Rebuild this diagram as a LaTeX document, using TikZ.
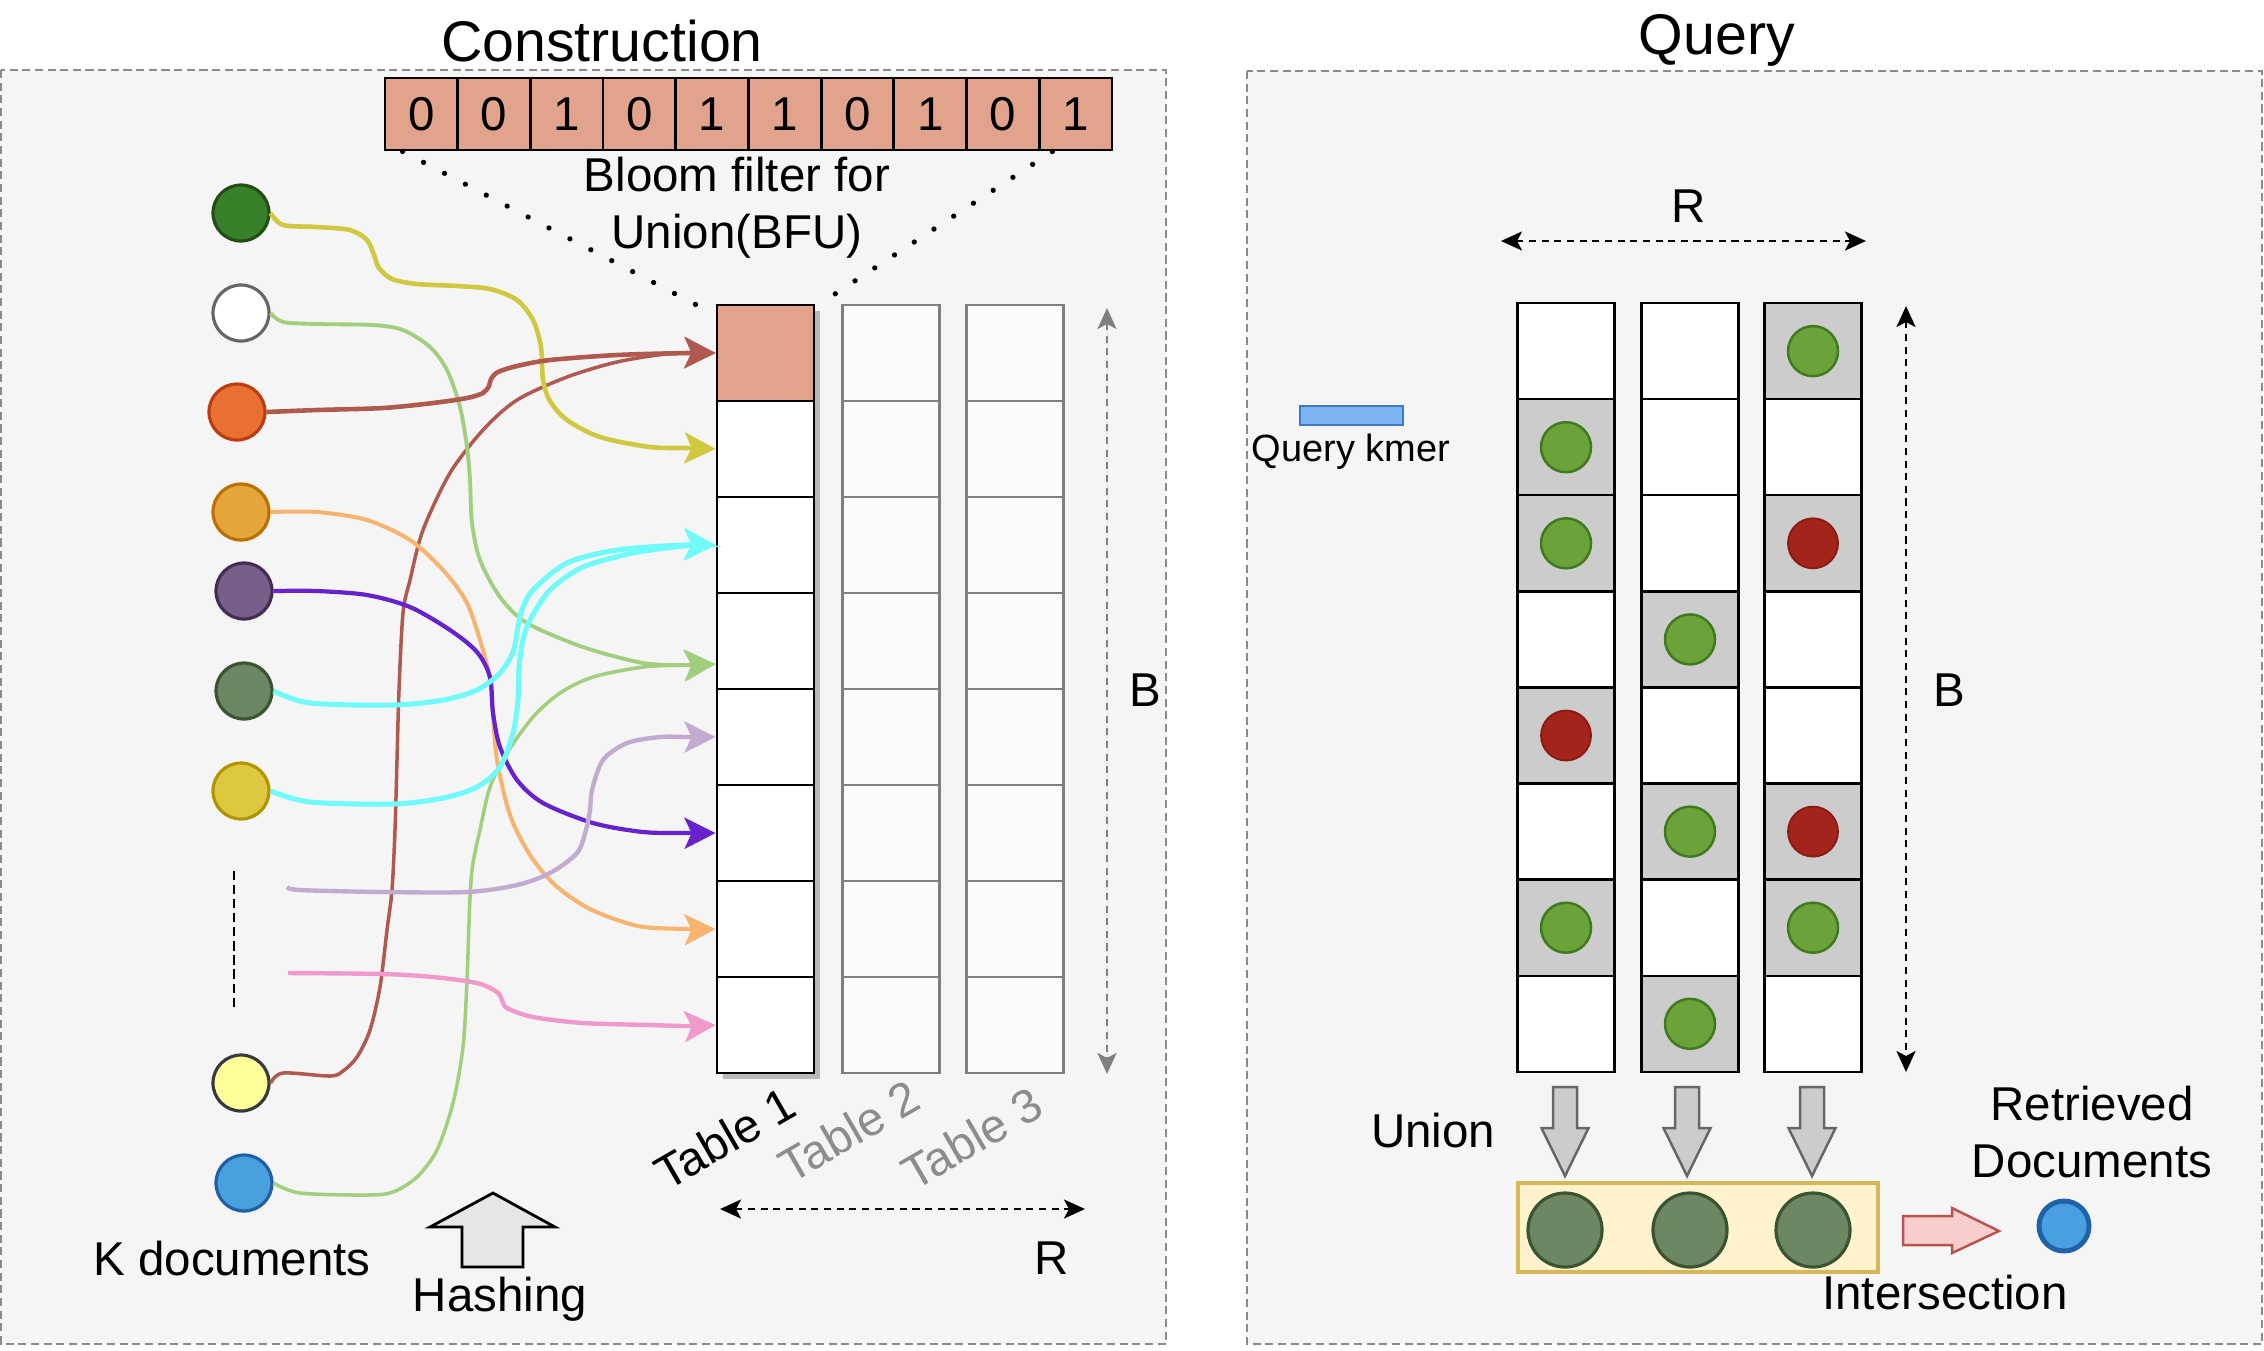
\documentclass[tikz,border=0pt]{standalone}
\usepackage{fontspec}
\setmainfont{Liberation Sans}
\usetikzlibrary{arrows.meta,calc}
\definecolor{panelbg}{HTML}{F5F5F5}
\definecolor{panelline}{HTML}{8A8A8A}
\definecolor{salmon}{HTML}{E1A38C}
\definecolor{tabfill}{HTML}{FAFAFA}
\definecolor{tabline}{HTML}{7F7F7F}
\definecolor{tshadow}{HTML}{B8B8B8}
\definecolor{cyellow}{HTML}{D0C83E}
\definecolor{cgreen}{HTML}{A2CF7E}
\definecolor{cbrown}{HTML}{B0594F}
\definecolor{corange}{HTML}{F7B46E}
\definecolor{cpurple}{HTML}{6622CC}
\definecolor{ccyan}{HTML}{70FAFA}
\definecolor{clilac}{HTML}{C3ABD0}
\definecolor{cpink}{HTML}{F09ACB}
\definecolor{d1f}{HTML}{38802A}\definecolor{d1d}{HTML}{234F14}
\definecolor{d2d}{HTML}{666666}
\definecolor{d3f}{HTML}{E87030}\definecolor{d3d}{HTML}{BE3C14}
\definecolor{d4f}{HTML}{E3A53C}\definecolor{d4d}{HTML}{BD7000}
\definecolor{d5f}{HTML}{76608A}\definecolor{d5d}{HTML}{432D57}
\definecolor{d6f}{HTML}{6D8764}\definecolor{d6d}{HTML}{3A5431}
\definecolor{d7f}{HTML}{DEC840}\definecolor{d7d}{HTML}{B09500}
\definecolor{d8f}{HTML}{FFFF99}\definecolor{d8d}{HTML}{36393D}
\definecolor{d9f}{HTML}{48A0DC}\definecolor{d9d}{HTML}{1F5FA5}
\definecolor{hashfill}{HTML}{E6E6E6}
\definecolor{ugray}{HTML}{CCCCCC}
\definecolor{ugline}{HTML}{666666}
\definecolor{qgray}{HTML}{CCCCCC}
\definecolor{gdotf}{HTML}{6BA23A}\definecolor{gdotd}{HTML}{3F7A1E}
\definecolor{rdotf}{HTML}{A2241A}\definecolor{rdotd}{HTML}{8A1A10}
\definecolor{unionf}{HTML}{FFF2CC}\definecolor{uniond}{HTML}{D6B656}
\definecolor{pinkf}{HTML}{F8CECC}\definecolor{pinkd}{HTML}{B85450}
\definecolor{kmerf}{HTML}{7EB3F2}\definecolor{kmerd}{HTML}{3B7BC8}
\definecolor{retf}{HTML}{4AA0DE}\definecolor{retd}{HTML}{1F62A8}
\definecolor{tgray}{HTML}{8C8C8C}
\begin{document}
\begin{tikzpicture}[x=0.01cm,y=-0.01cm,
  panel/.style={fill=panelbg,draw=panelline,line width=0.8pt,dash pattern=on 2.3pt off 1.3pt},
  lab/.style={font=\fontsize{13.5}{16.2}\selectfont,anchor=base,inner sep=0pt},
  ttl/.style={font=\fontsize{16.3}{19.5}\selectfont,anchor=base,inner sep=0pt},
  bit/.style={draw=black,line width=0.8pt,fill=salmon,minimum width=0.727cm,minimum height=0.72cm,inner sep=0pt,font=\fontsize{13.5}{16.2}\selectfont},
  t1cell/.style={draw=black,line width=0.8pt,fill=white,minimum width=0.97cm,minimum height=0.96cm,inner sep=0pt},
  tcell/.style={draw=tabline,line width=0.7pt,fill=tabfill,minimum width=0.97cm,minimum height=0.96cm,inner sep=0pt},
  doc/.style={circle,minimum size=0.56cm,inner sep=0pt,line width=0.9pt},
  link/.style={-{Stealth[length=3.1mm,width=3.1mm,inset=0.7mm]}},
  dotl/.style={line width=1.5pt,line cap=round,dash pattern=on 0.01pt off 6.7pt},
  dimk/.style={line width=0.7pt,dash pattern=on 2pt off 1.6pt,{Stealth[length=2.1mm,width=1.9mm,inset=0.5mm]}-{Stealth[length=2.1mm,width=1.9mm,inset=0.5mm]}},
  qcell/.style={draw=black,line width=0.7pt,fill=white,minimum width=0.97cm,minimum height=0.961cm,inner sep=0pt},
  gdot/.style={circle,minimum size=0.5cm,inner sep=0pt,fill=gdotf,draw=gdotd,line width=0.7pt},
  rdot/.style={circle,minimum size=0.5cm,inner sep=0pt,fill=rdotf,draw=rdotd,line width=0.5pt},
  bigdot/.style={circle,minimum size=0.74cm,inner sep=0pt,fill=d6f,draw=d6d,line width=0.9pt}
]
\path[use as bounding box] (0,0) rectangle (2264,1350);
\fill[white] (0,0) rectangle (2264,1350);

% panels
\draw[panel] (1,70) rectangle (1166,1344);
\draw[panel] (1247,71) rectangle (2262,1344);
\node[ttl] (tcons) at (602,61) {Construction};
\node[ttl] (tquery) at (1717,54) {Query};

% bloom filter
\foreach \i/\v in {1/0,2/0,3/1,4/0,5/1,6/1,7/0,8/1,9/0,10/1}{
  \node[bit] (b\i) at ({385+72.7*(\i-0.5)},114) {\v};
}
\node[lab,align=center] (bfu) at (737,248) {Bloom filter for\\Union(BFU)};

% tables
\fill[tshadow] (723,311) rectangle (820,1079);
\foreach \i in {1,...,8}{
  \node[t1cell] (t\i) at (765.5,{305+96*\i-48}) {};
  \node[tcell] (u\i) at (891,{305+96*\i-48}) {};
  \node[tcell] (v\i) at (1015,{305+96*\i-48}) {};
}
\node[t1cell,fill=salmon] (t1s) at (t1) {};
\draw[dotl] ([xshift=0.19cm]b1.south west) -- ([xshift=-0.14cm,yshift=-0.04cm]t1.north west);
\draw[dotl] ([xshift=-0.61cm]b10.south east) -- ([xshift=0.11cm,yshift=0.04cm]t1.north east);
\node[lab,anchor=center,rotate=30] (tl1) at (725,1138) {Table 1};
\node[lab,anchor=center,rotate=30,text=tgray] (tl2) at (849,1131) {Table 2};
\node[lab,anchor=center,rotate=30,text=tgray] (tl3) at (972,1138) {Table 3};

% B and R dims (left)
\coordinate (lbt) at (1107,308);
\coordinate (lbb) at (1107,1074);
\draw[dimk,draw=tabline,fill=ugline,line width=0.8pt] (lbt) -- (lbb);
\node[lab] (lB) at (1145,706) {B};
\coordinate (lrl) at (720,1209);
\coordinate (lrr) at (1085,1209);
\draw[dimk] (lrl) -- (lrr);
\node[lab] (lR) at (1052,1274) {R};

% documents
\node[doc,fill=d1f,draw=d1d] (c1) at (241,213) {};
\node[doc,fill=white,draw=d2d] (c2) at (241,313) {};
\node[doc,fill=d3f,draw=d3d] (c3) at (237,412) {};
\node[doc,fill=d4f,draw=d4d] (c4) at (241,512) {};
\node[doc,fill=d5f,draw=d5d] (c5) at (244,591) {};
\node[doc,fill=d6f,draw=d6d] (c6) at (244,691) {};
\node[doc,fill=d7f,draw=d7d] (c7) at (241,791) {};
\node[doc,fill=d8f,draw=d8d] (c8) at (241,1083) {};
\node[doc,fill=d9f,draw=d9d] (c9) at (244,1183) {};
\coordinate (dd1) at (234,871);
\coordinate (dd2) at (234,1007);
\draw[line width=0.7pt,dash pattern=on 2.6pt off 1.4pt] (dd1) -- (dd2);
\coordinate (ls) at (287,887);
\coordinate (ps) at (288,973);
\coordinate (g4) at ([yshift=-0.23cm]t4.west);

% hashing links
\draw[link,cbrown,line width=1.0pt] plot[smooth,tension=0.5] coordinates {(c8.east) (283,1073) (330,1076) (343,1071) (357,1057) (370,1030) (380,987) (387,930) (392,890) (395,830) (397,760) (399,690) (403,613) (410,580) (423,530) (450,473) (483,430) (517,400) (567,377) (617,362) (667,354) (t1.west)};
\draw[link,cgreen,line width=1.0pt] plot[smooth,tension=0.5] coordinates {(c9.east) (300,1193) (367,1195) (393,1192) (417,1177) (437,1150) (453,1103) (463,1047) (467,980) (470,897) (473,863) (480,830) (490,787) (507,753) (533,717) (560,693) (593,677) (643,667) (687,665) (g4)};
\draw[link,cgreen,line width=1.1pt] plot[smooth,tension=0.5] coordinates {(c2.east) (283,322) (317,324) (373,325) (403,330) (430,347) (447,370) (460,407) (467,447) (470,480) (472,523) (480,560) (500,597) (527,623) (583,647) (643,663) (687,665) (g4)};
\draw[link,cyellow,line width=1.3pt] plot[smooth,tension=0.5] coordinates {(c1.east) (283,225) (317,227) (350,230) (367,240) (374,255) (379,268) (392,279) (417,284) (457,286) (490,289) (517,300) (533,320) (541,347) (543,380) (550,401) (567,420) (600,437) (650,447) (687,448) (t2.west)};
\draw[link,cbrown,line width=1.3pt] plot[smooth,tension=0.5] coordinates {(c3.east) (317,410) (383,408) (433,403) (467,398) (483,393) (489,386) (491,379) (498,372) (517,366) (550,360) (617,355) (687,353) (t1.west)};
\draw[link,corange,line width=1.15pt] plot[smooth,tension=0.5] coordinates {(c4.east) (317,512) (367,520) (410,540) (443,570) (467,603) (483,650) (490,680) (493,713) (497,760) (510,815) (530,855) (555,885) (590,909) (638,926) (687,929) (t7.west)};
\draw[link,cpurple,line width=1.2pt] plot[smooth,tension=0.5] coordinates {(c5.east) (317,591) (367,595) (410,607) (450,630) (477,652) (490,677) (493,713) (500,747) (517,780) (543,803) (593,823) (643,832) (687,833) (t6.west)};
\draw[link,ccyan,line width=1.45pt] plot[smooth,tension=0.5] coordinates {(c6.east) (310,703) (393,705) (443,700) (477,690) (500,673) (513,652) (518,627) (522,610) (533,590) (567,563) (617,550) (683,545) (t3.west)};
\draw[link,ccyan,line width=1.45pt] plot[smooth,tension=0.5] coordinates {(c7.east) (310,802) (393,804) (443,798) (477,787) (500,767) (513,733) (518,700) (519,667) (523,640) (530,620) (550,590) (583,567) (633,553) (683,546) (t3.west)};
\draw[link,clilac,line width=1.25pt] plot[smooth,tension=0.5] coordinates {(ls) (300,890) (383,892) (467,892) (517,885) (550,873) (577,853) (586,830) (590,810) (592,790) (603,760) (627,743) (660,737) (687,737) (t5.west)};
\draw[link,cpink,line width=1.25pt] plot[smooth,tension=0.5] coordinates {(ps) (383,974) (433,977) (477,983) (497,992) (502,1000) (507,1008) (533,1017) (583,1023) (650,1025) (687,1026) (t8.west)};

% labels left bottom
\node[lab] (kdoc) at (232,1275) {K documents};
\draw[fill=hashfill,line width=0.8pt] (493,1193) -- (555,1227) -- (523,1227) -- (523,1267) -- (462,1267) -- (462,1227) -- (430,1227) -- cycle;
\node[lab] (hash) at (500,1311) {Hashing};

% ---------------- Query panel
\coordinate (rrl) at (1501,241);
\coordinate (rrr) at (1866,241);
\draw[dimk] (rrl) -- (rrr);
\node[lab] (rR) at (1689,222) {R};
\coordinate (rbt) at (1906,306);
\coordinate (rbb) at (1906,1072);
\draw[dimk] (rbt) -- (rbb);
\node[lab] (rB) at (1949,706) {B};

\draw[fill=kmerf,draw=kmerd,line width=0.7pt] (1300,406) rectangle (1403,425);
\node[font=\fontsize{10.8}{13}\selectfont,anchor=base,inner sep=0pt] (kmer) at (1351,461) {Query kmer};

\foreach \c/\x in {1/1566,2/1690,3/1813}{
  \foreach \r in {1,...,8}{
    \node[qcell] (q\c\r) at (\x,{303+96.1*\r-48}) {};
  }
}
\foreach \c/\r in {1/2,1/3,1/5,1/7,2/4,2/6,2/8,3/1,3/3,3/6,3/7}{
  \node[qcell,fill=qgray] (qs\c\r) at (q\c\r) {};
}
\foreach \c/\r in {1/2,1/3,1/7,2/4,2/6,2/8,3/1,3/7}{
  \node[gdot] (gd\c\r) at (q\c\r) {};
}
\foreach \c/\r in {1/5,3/3,3/6}{
  \node[rdot] (rd\c\r) at (q\c\r) {};
}

\foreach \x in {1565,1687,1812}{
  \draw[fill=ugray,draw=ugline,line width=0.7pt] ({\x-12},1087) -- ({\x+12},1087) -- ({\x+12},1128) -- ({\x+23.5},1128) -- (\x,1176) -- ({\x-23.5},1128) -- ({\x-12},1128) -- cycle;
}
\node[lab] (union) at (1433,1147) {Union};
\draw[fill=unionf,draw=uniond,line width=0.9pt] (1518,1183) rectangle (1878,1272);
\node[bigdot] (u1d) at (1565,1230) {};
\node[bigdot] (u2d) at (1690,1230) {};
\node[bigdot] (u3d) at (1813,1230) {};
\draw[fill=pinkf,draw=pinkd,line width=0.7pt] (1903,1216) -- (1952,1216) -- (1952,1208) -- (1999,1231) -- (1952,1253) -- (1952,1245) -- (1903,1245) -- cycle;
\node[circle,minimum size=0.5cm,inner sep=0pt,fill=retf,draw=retd,line width=1.4pt] (ret) at (2064,1226) {};
\node[lab,align=center] (retl) at (2092,1177) {Retrieved\\Documents};
\node[lab] (inter) at (1945,1309) {Intersection};
\end{tikzpicture}
\end{document}
